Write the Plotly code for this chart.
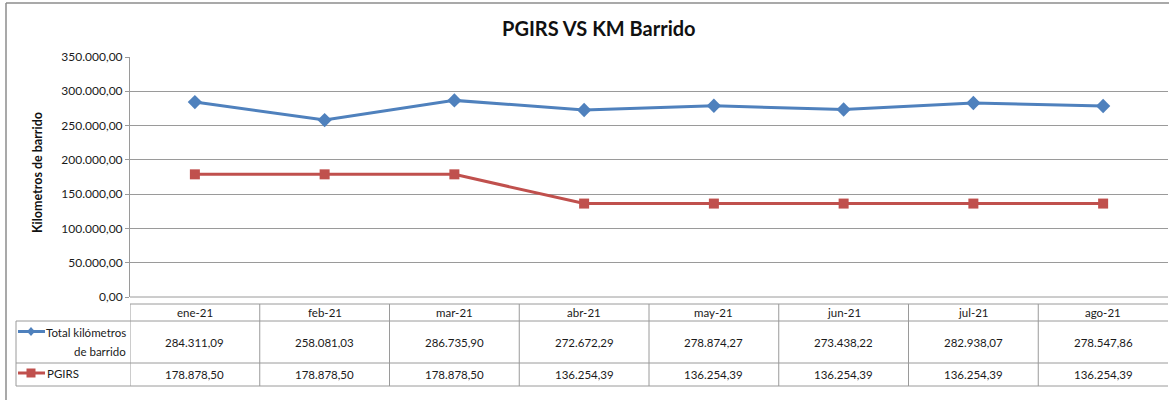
import plotly.graph_objects as go

months = ["ene-21", "feb-21", "mar-21", "abr-21", "may-21", "jun-21", "jul-21", "ago-21"]
total_km = [284311.09, 258081.03, 286735.90, 272672.29, 278874.27, 273438.22, 282938.07, 278547.86]
pgirs = [178878.50, 178878.50, 178878.50, 136254.39, 136254.39, 136254.39, 136254.39, 136254.39]
series_names = ["Total kilómetros de barrido", "PGIRS"]
y_ticks = [0, 50000, 100000, 150000, 200000, 250000, 300000, 350000]

W, H = 1169, 400
BLUE = "#4F81BD"
RED = "#C0504D"
GRID = "#9A9A9A"
FONT = "Lato"


def px(x):
    return x / W


def py(y):
    return 1 - y / H


def fmt(v):
    s = f"{v:,.2f}"
    return s.replace(",", "X").replace(".", ",").replace("X", ".")


fig = go.Figure()
fig.add_trace(go.Scatter(x=months, y=total_km, name=series_names[0], mode="lines+markers",
                         line=dict(color=BLUE, width=3),
                         marker=dict(symbol="diamond", size=11, color=BLUE)))
fig.add_trace(go.Scatter(x=months, y=pgirs, name=series_names[1], mode="lines+markers",
                         line=dict(color=RED, width=3),
                         marker=dict(symbol="square", size=10, color=RED)))

x0p, x1p = px(130), px(1168)
fig.update_layout(
    width=W, height=H,
    margin=dict(l=0, r=0, t=0, b=0, autoexpand=False),
    paper_bgcolor="white", plot_bgcolor="white",
    showlegend=False,
    separators=",.",
    font=dict(family=FONT, size=11.5, color="#1a1a1a"),
    xaxis=dict(domain=[x0p, x1p], type="category", range=[-0.5, 7.5],
               showticklabels=False, showgrid=False, zeroline=False,
               showline=False, ticks="", automargin=False),
    yaxis=dict(domain=[py(297), py(57)], range=[0, 350000], tickvals=y_ticks,
               tickformat=",.2f", showgrid=True, gridcolor=GRID, gridwidth=1,
               zeroline=False, showline=True, linecolor=GRID, linewidth=1,
               ticks="outside", ticklen=4, tickcolor=GRID, automargin=False,
               tickfont=dict(family=FONT, size=12, color="#1a1a1a")),
)

shapes = []
# outer chart border (left and top visible)
shapes.append(dict(type="line", xref="paper", yref="paper", x0=px(6), x1=px(6), y0=0, y1=py(3),
                   line=dict(color="#8C8C8C", width=1.5)))
shapes.append(dict(type="line", xref="paper", yref="paper", x0=px(6), x1=1, y0=py(3), y1=py(3),
                   line=dict(color="#8C8C8C", width=1.5)))
shapes.append(dict(type="line", xref="paper", yref="paper", x0=x0p, x1=x1p, y0=py(297), y1=py(297),
                   line=dict(color=GRID, width=1)))

# data table
tline = dict(color="#9A9A9A", width=1)
rows_y = [304, 321, 363, 386]
shapes.append(dict(type="line", xref="paper", yref="paper", x0=x0p, x1=x1p, y0=py(304), y1=py(304), line=tline))
for yy in rows_y[1:]:
    shapes.append(dict(type="line", xref="paper", yref="paper", x0=px(16), x1=x1p, y0=py(yy), y1=py(yy), line=tline))
shapes.append(dict(type="line", xref="paper", yref="paper", x0=px(16), x1=px(16), y0=py(321), y1=py(386), line=tline))
for i in range(len(months)):
    shapes.append(dict(type="line", xref="x", yref="paper", x0=i - 0.5, x1=i - 0.5,
                       y0=py(304), y1=py(386), line=tline))

# legend keys inside table
for col, yy, sym in [(BLUE, 331.5, "diamond"), (RED, 373, "square")]:
    shapes.append(dict(type="line", xref="paper", yref="paper", x0=px(18), x1=px(45), y0=py(yy), y1=py(yy),
                       line=dict(color=col, width=3)))
    cx, cy = 31, yy
    if sym == "diamond":
        path = f"M {px(cx-4)},{py(cy)} L {px(cx)},{py(cy-4.5)} L {px(cx+4)},{py(cy)} L {px(cx)},{py(cy+4.5)} Z"
    else:
        path = f"M {px(cx-4.5)},{py(cy-4.5)} L {px(cx+4.5)},{py(cy-4.5)} L {px(cx+4.5)},{py(cy+4.5)} L {px(cx-4.5)},{py(cy+4.5)} Z"
    shapes.append(dict(type="path", xref="paper", yref="paper", path=path,
                       fillcolor=col, line=dict(color=col, width=0)))
fig.update_layout(shapes=shapes)

C = dict(xanchor="center", yanchor="middle", showarrow=False)
ann = []
ann.append(dict(text="<b>PGIRS VS KM Barrido</b>", xref="paper", yref="paper", x=px(599), y=py(28),
                font=dict(family=FONT, size=20, color="#111111"), **C))
ann.append(dict(text="<b>Kilometros de barrido</b>", xref="paper", yref="paper", x=px(37), y=py(173),
                textangle=-90, font=dict(family=FONT, size=12.5, color="#111111"), **C))
for i, m in enumerate(months):
    ann.append(dict(text=m, xref="x", yref="paper", x=m, y=py(312.5), **C))
    ann.append(dict(text=fmt(total_km[i]), xref="x", yref="paper", x=m, y=py(342), **C))
    ann.append(dict(text=fmt(pgirs[i]), xref="x", yref="paper", x=m, y=py(374), **C))
ann.append(dict(text="Total kilómetros", xref="paper", yref="paper", x=px(128), y=py(332),
                xanchor="right", yanchor="middle", showarrow=False))
ann.append(dict(text="de barrido", xref="paper", yref="paper", x=px(128), y=py(351),
                xanchor="right", yanchor="middle", showarrow=False))
ann.append(dict(text=series_names[1], xref="paper", yref="paper", x=px(45), y=py(373),
                xanchor="left", yanchor="middle", showarrow=False))
fig.update_layout(annotations=ann)

fig.write_html("out.html", config={"displayModeBar": False},
               post_script="document.body.style.margin='0';document.body.style.overflow='hidden';")
